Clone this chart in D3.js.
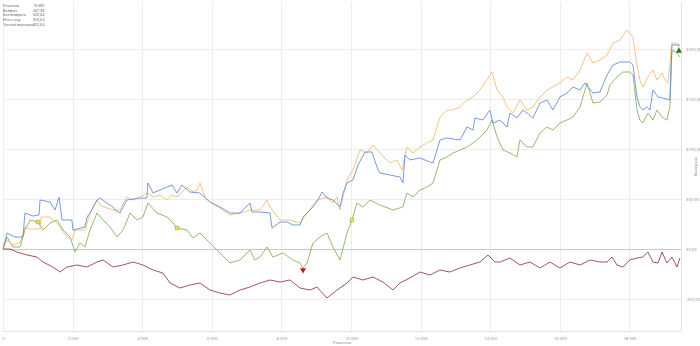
<!DOCTYPE html>
<html>
<head>
<meta charset="utf-8">
<script src="https://cdn.jsdelivr.net/npm/d3@7"></script>
<style>
  body { margin: 0; background: #fff; }
  svg { display: block; font-family: "Open Sans", "Noto Sans", sans-serif; }
  .grid line { stroke: #ededed; stroke-width: 1; }
  .lbl { fill: #8a8a8a; font-size: 4.2px; }
  .legend text { fill: #555; font-size: 3.6px; }
</style>
</head>
<body>
<svg width="700" height="346"></svg>
<script>
  // legend rows (label, value)
  var legendLabels = ["Решения", "Возврат", "Без возврата", "Итого ход", "Чистый выигрыш"];
  var legendValues = ["19 480", "$47,38", "$26,64", "$53,64", "$53,64"];

  var xTicks = [0, 2000, 4000, 6000, 8000, 10000, 12000, 14000, 16000, 18000];
  var yTicks = [-50, 0, 50, 100, 150, 200];

  // [decisions, $] for each series
  var blueSeries = [[0,0],[115,16],[345,12],[575,12],[630,36],[860,33],[1035,34],[1065,49],[1350,47],[1495,39],[1610,52],[1695,29],[1980,29],[2010,19],[2355,22],[2415,32],[2500,36],[2700,49],[2785,51],[2990,46],[3160,42],[3220,39],[3360,36],[3560,49],[3935,51],[4135,51],[4165,66],[4310,56],[4510,59],[4710,62],[4855,64],[5000,56],[5140,64],[5370,57],[5660,56],[5945,47],[6235,42],[6520,36],[6810,36],[7095,46],[7155,37],[7385,37],[7670,36],[7730,21],[7960,27],[8160,27],[8330,24],[8535,24],[8620,32],[8735,36],[8905,42],[9050,49],[9165,57],[9310,51],[9480,49],[9680,42],[9770,56],[9885,66],[10055,69],[10200,84],[10400,97],[10600,97],[10775,79],[10830,76],[11120,74],[11405,72],[11490,66],[11550,94],[11690,89],[11980,91],[12270,87],[12355,86],[12555,109],[12755,111],[13130,109],[13330,122],[13505,119],[13560,131],[13790,129],[13990,139],[14080,126],[14280,129],[14480,122],[14565,136],[14765,131],[14940,139],[15055,136],[15225,131],[15430,146],[15630,149],[15800,139],[16000,152],[16205,156],[16375,162],[16580,159],[16720,166],[16950,156],[17150,157],[17355,174],[17525,184],[17725,187],[18010,187],[18100,184],[18215,152],[18300,142],[18385,139],[18500,142],[18590,139],[18675,159],[18820,152],[18960,151],[19160,149],[19220,204],[19450,204]];

  var orangeSeries = [[0,0],[115,9],[285,4],[490,6],[630,22],[775,20],[1065,20],[1090,32],[1350,32],[1550,26],[1695,19],[1840,12],[1980,9],[2070,19],[2355,19],[2500,36],[2700,49],[2785,44],[2990,41],[3160,39],[3360,39],[3560,52],[3735,49],[3935,52],[4135,56],[4310,52],[4510,54],[4710,49],[4855,54],[5000,52],[5140,57],[5285,62],[5460,57],[5575,59],[5660,66],[5805,52],[5945,47],[6235,41],[6520,34],[6810,36],[7095,39],[7385,39],[7585,49],[7670,42],[7960,29],[8245,29],[8535,26],[8735,36],[9020,49],[9310,52],[9480,46],[9595,52],[9680,39],[9885,69],[10055,79],[10255,99],[10455,96],[10630,104],[10830,96],[11120,86],[11320,89],[11465,79],[11605,102],[11780,96],[11980,102],[12180,106],[12355,109],[12555,132],[12755,139],[12930,139],[13130,142],[13330,149],[13505,152],[13705,159],[13905,169],[14050,177],[14195,159],[14365,152],[14480,142],[14650,136],[14855,149],[15055,139],[15225,142],[15430,152],[15630,159],[15800,162],[16000,166],[16205,172],[16375,169],[16580,179],[16780,196],[16950,186],[17150,189],[17355,194],[17525,206],[17725,209],[17925,219],[18010,216],[18100,212],[18215,184],[18300,169],[18385,162],[18530,172],[18675,179],[18790,169],[18935,176],[19020,169],[19105,166],[19220,206],[19365,206],[19450,199]];

  var greenSeries = [[0,0],[115,12],[285,2],[490,2],[630,19],[775,29],[1005,27],[1150,19],[1350,26],[1550,29],[1725,19],[1925,12],[2070,-3],[2210,6],[2355,2],[2500,19],[2700,36],[2875,29],[3075,22],[3275,12],[3450,19],[3650,36],[3850,29],[4020,32],[4165,46],[4425,36],[4710,32],[4885,26],[5000,21],[5285,19],[5460,11],[5660,16],[5945,6],[6235,-4],[6520,-14],[6810,-11],[7095,-1],[7240,-11],[7385,-8],[7585,2],[7755,-8],[8045,-4],[8330,-11],[8535,-14],[8620,-19],[8735,-14],[8905,6],[9110,12],[9310,16],[9480,2],[9680,-11],[9885,16],[10025,29],[10170,46],[10340,42],[10545,49],[10830,44],[11205,39],[11490,42],[11605,56],[11780,52],[11980,59],[12180,62],[12355,66],[12555,89],[12755,92],[12930,96],[13130,99],[13330,102],[13505,106],[13705,112],[13905,119],[14050,129],[14195,112],[14365,99],[14565,96],[14765,92],[14855,109],[15055,102],[15225,102],[15430,116],[15630,122],[15800,119],[16000,126],[16205,129],[16375,132],[16580,142],[16780,166],[16950,146],[17150,147],[17355,154],[17440,164],[17640,172],[17810,177],[18010,177],[18100,174],[18215,139],[18300,129],[18385,126],[18530,136],[18675,129],[18790,139],[18935,132],[19075,129],[19160,142],[19220,199],[19365,196],[19450,192]];

  var redSeries = [[0,0],[200,0],[400,-3],[690,-6],[975,-8],[1150,-13],[1435,-18],[1640,-23],[1840,-18],[2125,-16],[2415,-18],[2700,-13],[2875,-11],[3160,-18],[3450,-16],[3735,-13],[4020,-16],[4310,-21],[4595,-24],[4800,-34],[5085,-39],[5370,-36],[5660,-34],[5945,-41],[6235,-44],[6520,-46],[6810,-41],[7095,-38],[7385,-34],[7670,-31],[7960,-33],[8245,-31],[8535,-39],[8820,-41],[9020,-38],[9310,-49],[9595,-41],[9885,-34],[10055,-28],[10340,-31],[10630,-28],[10915,-33],[11205,-41],[11405,-34],[11690,-29],[11980,-23],[12270,-26],[12555,-21],[12840,-23],[13130,-19],[13415,-16],[13705,-13],[13935,-6],[14135,-13],[14280,-13],[14565,-9],[14855,-16],[15140,-13],[15430,-19],[15715,-13],[16000,-19],[16290,-13],[16580,-16],[16865,-11],[17150,-13],[17355,-13],[17500,-8],[17640,-16],[17810,-18],[18010,-11],[18215,-9],[18385,-8],[18530,-3],[18675,-13],[18820,-14],[18935,-3],[19075,-14],[19220,-8],[19365,-18],[19450,-9]];

  // markers on the green line
  var yellowMarks = [[1005,27],[5000,21],[10025,29]];
  var minMark = [8620,-21];
  var maxMark = [19420,198];

  var svg = d3.select("svg"),
  mLeft = 3, mRight = 681, mTop = 2, mBottom = 331;

  var x = d3.scaleLinear().domain([0, 19480]).range([mLeft, mRight]),
  y = d3.scaleLinear().domain([-82, 247]).range([mBottom, mTop]);

  var fmtX = function(d) { return d3.format(",")(d).replace(/,/g, " "); };
  var fmtY = function(d) { return (d < 0 ? "-" : "") + "$" + d3.format(".2f")(Math.abs(d)).replace(".", ","); };

  // grid
  var grid = svg.append("g").attr("class", "grid");
  grid.selectAll(".vx").data(xTicks).enter().append("line")
  .attr("x1", function(d) { return Math.round(x(d)) + 0.5; })
  .attr("x2", function(d) { return Math.round(x(d)) + 0.5; })
  .attr("y1", mTop).attr("y2", mBottom);
  grid.selectAll(".hy").data(yTicks.filter(function(d) { return d !== 0; })).enter().append("line")
  .attr("x1", mLeft).attr("x2", mRight)
  .attr("y1", function(d) { return Math.round(y(d)) + 0.5; })
  .attr("y2", function(d) { return Math.round(y(d)) + 0.5; });

  // bottom + right axis line
  svg.append("line").attr("x1", mLeft).attr("x2", mRight)
  .attr("y1", mBottom + 0.5).attr("y2", mBottom + 0.5).attr("stroke", "#e2e2e2");
  svg.append("line").attr("x1", mRight + 0.5).attr("x2", mRight + 0.5)
  .attr("y1", mTop).attr("y2", mBottom).attr("stroke", "#e2e2e2");

  // zero line
  svg.append("line").attr("x1", mLeft).attr("x2", mRight)
  .attr("y1", Math.round(y(0)) + 0.5).attr("y2", Math.round(y(0)) + 0.5)
  .attr("stroke", "#c8c8c8");

  // axes labels
  var xAxis = svg.append("g")
  .attr("transform", "translate(0," + (mBottom + 3) + ")")
  .call(d3.axisBottom(x).tickValues(xTicks).tickFormat(fmtX).tickSize(0));
  xAxis.select(".domain").remove();
  xAxis.selectAll("text").attr("class", "lbl").attr("fill", null);
  xAxis.attr("font-size", null).attr("font-family", null);

  var yAxis = svg.append("g")
  .attr("transform", "translate(" + (mRight + 2) + ",0)")
  .call(d3.axisRight(y).tickValues(yTicks).tickFormat(fmtY).tickSize(0));
  yAxis.select(".domain").remove();
  yAxis.selectAll("text").attr("class", "lbl").attr("fill", null);
  yAxis.attr("font-size", null).attr("font-family", null);

  svg.append("text").attr("class", "lbl")
  .attr("x", (mLeft + mRight) / 2).attr("y", 344).attr("text-anchor", "middle")
  .text("Решения");
  svg.append("text").attr("class", "lbl")
  .attr("transform", "translate(697," + ((mTop + mBottom) / 2) + ") rotate(-90)")
  .attr("text-anchor", "middle")
  .text("Выигрыш");

  // lines
  var line = d3.line()
  .x(function(d) { return x(d[0]); })
  .y(function(d) { return y(d[1]); });

  var series = [
    {data: redSeries, color: "#93363b"},
    {data: greenSeries, color: "#82ad58"},
    {data: orangeSeries, color: "#f6b872"},
    {data: blueSeries, color: "#6189d2"}
  ];
  svg.selectAll(".series").data(series).enter().append("path")
  .attr("class", "series")
  .attr("fill", "none")
  .attr("stroke", function(d) { return d.color; })
  .attr("stroke-width", 0.85)
  .attr("stroke-linejoin", "round")
  .attr("d", function(d) { return line(d.data); });

  // markers
  svg.selectAll(".ym").data(yellowMarks).enter().append("path")
  .attr("transform", function(d) { return "translate(" + x(d[0]) + "," + y(d[1]) + ")"; })
  .attr("d", d3.symbol(d3.symbolSquare, 12))
  .attr("fill", "#f2ee3a").attr("stroke", "#9a9a2a").attr("stroke-width", 0.6);

  svg.append("path")
  .attr("transform", "translate(" + x(minMark[0]) + "," + y(minMark[1]) + ") rotate(180)")
  .attr("d", d3.symbol(d3.symbolTriangle, 16))
  .attr("fill", "#c0171d");

  svg.append("path")
  .attr("transform", "translate(" + x(maxMark[0]) + "," + y(maxMark[1]) + ")")
  .attr("d", d3.symbol(d3.symbolTriangle, 16))
  .attr("fill", "#1e7a1e");

  // legend
  var lg = svg.append("g").attr("class", "legend");
  lg.selectAll(".ll").data(legendLabels).enter().append("text")
  .attr("x", 3).attr("y", function(d, i) { return 7 + i * 4.7; })
  .text(function(d) { return d; });
  lg.selectAll(".lv").data(legendValues).enter().append("text")
  .attr("x", 33).attr("y", function(d, i) { return 7 + i * 4.7; })
  .text(function(d) { return d; });
</script>
</body>
</html>
